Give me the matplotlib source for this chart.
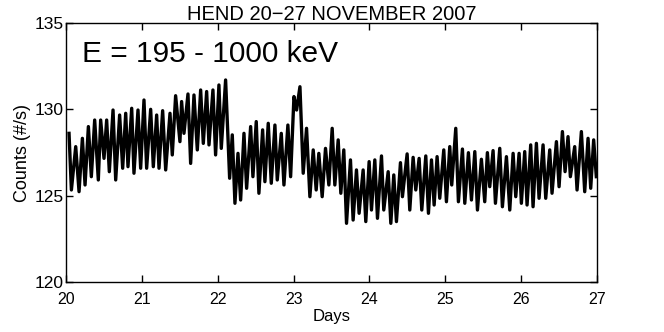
import matplotlib
matplotlib.use('Agg')
import matplotlib.pyplot as plt
import numpy as np

# peaks and troughs
days_a = [20.040, 20.071, 20.128, 20.172, 20.216, 20.251, 20.295, 20.334, 20.378, 20.426,
          20.457, 20.501, 20.536, 20.571, 20.620, 20.655, 20.707, 20.747, 20.787, 20.817,
          20.866, 20.896, 20.949, 20.984, 21.028, 21.063, 21.116, 21.151, 21.195, 21.226,
          21.274, 21.314, 21.371, 21.401, 21.445, 21.502, 21.524, 21.555, 21.608, 21.643,
          21.687, 21.731, 21.775, 21.810, 21.854, 21.885, 21.937, 21.972, 22.016, 22.047,
          22.104, 22.157, 22.192, 22.227, 22.267, 22.302, 22.346, 22.381, 22.434, 22.464,
          22.508, 22.543, 22.592, 22.622, 22.666, 22.706, 22.754, 22.785, 22.838, 22.873,
          22.925, 22.961, 23.005, 23.040, 23.084, 23.127, 23.171, 23.215, 23.259, 23.298,
          23.333, 23.377, 23.421, 23.465, 23.509]
counts_a = [128.61, 125.33, 127.84, 125.23, 128.32, 125.62, 129.00, 126.10, 129.38, 125.91,
            129.38, 127.16, 129.38, 126.39, 129.96, 125.91, 129.67, 126.59, 129.77, 126.68,
            130.06, 126.30, 129.96, 126.59, 130.54, 126.59, 130.00, 126.68, 129.67, 126.59,
            129.92, 126.49, 129.77, 127.36, 130.79, 128.13, 130.45, 128.61, 130.89, 126.87,
            130.83, 127.65, 131.12, 128.03, 131.03, 127.94, 131.12, 127.36, 131.41, 127.74,
            131.70, 126.01, 128.52, 124.56, 127.45, 124.75, 128.61, 125.43, 129.00, 126.10,
            129.29, 125.14, 128.81, 125.81, 129.19, 125.72, 129.09, 125.91, 128.61, 125.62,
            129.09, 126.10, 130.74, 129.96, 131.31, 126.30, 128.90, 124.94, 127.65, 125.33,
            127.45, 124.94, 127.74, 125.62, 128.90]

days_b = [23.544, 23.588, 23.623, 23.662, 23.698, 23.750, 23.785, 23.829, 23.864, 23.917,
          23.952, 23.996, 24.027, 24.071, 24.106, 24.159, 24.189, 24.247, 24.282, 24.321,
          24.356, 24.409, 24.435, 24.497, 24.532, 24.576, 24.611, 24.655, 24.690, 24.743,
          24.778, 24.818, 24.853, 24.892, 24.927, 24.980, 25.015, 25.059, 25.085, 25.138,
          25.173, 25.226, 25.257, 25.305, 25.345, 25.389, 25.424, 25.476, 25.520, 25.555,
          25.586, 25.630, 25.661, 25.718, 25.753, 25.806, 25.850, 25.894, 25.929, 25.973,
          26.003, 26.047, 26.078, 26.126, 26.157, 26.201, 26.236, 26.289, 26.324, 26.377,
          26.407, 26.465, 26.500, 26.544, 26.579, 26.618, 26.649, 26.706, 26.737, 26.794,
          26.838, 26.882, 26.917, 26.956, 26.991]
counts_b = [125.62, 128.23, 125.14, 127.65, 123.40, 127.07, 123.59, 126.49, 123.98, 126.49,
            123.50, 126.97, 124.17, 127.07, 123.69, 127.30, 124.17, 126.39, 123.40, 126.20,
            123.50, 126.91, 124.94, 127.42, 124.17, 127.22, 125.33, 127.16, 124.17, 127.30,
            123.98, 127.07, 124.46, 127.26, 124.85, 127.65, 124.65, 127.84, 125.62, 128.90,
            124.65, 127.70, 124.56, 127.49, 124.75, 127.55, 124.17, 127.11, 124.65, 127.49,
            125.52, 127.61, 124.56, 127.74, 124.36, 127.26, 124.17, 127.45, 124.94, 127.45,
            124.56, 127.55, 124.46, 127.94, 124.36, 128.03, 124.85, 127.94, 124.85, 127.65,
            125.14, 128.13, 125.52, 128.71, 126.39, 128.42, 126.10, 127.84, 125.33, 128.71,
            125.23, 128.32, 125.43, 128.23, 126.10]

day_ticks = [20, 21, 22, 23, 24, 25, 26, 27]
count_ticks = [120, 125, 130, 135]

plt.rcParams['font.family'] = ['Liberation Sans', 'DejaVu Sans']

days = np.array(days_a + days_b)
counts = np.array(counts_a + counts_b)

fig = plt.figure(figsize=(6.64, 3.32), dpi=100)
ax = fig.add_axes([0.0994, 0.1506, 0.7997, 0.7801])
ax.plot(days, counts, color='black', lw=2.4, solid_joinstyle='round')

ax.set_xlim(20, 27)
ax.set_ylim(120, 135)
ax.set_xticks(day_ticks)
ax.set_yticks(count_ticks)
ax.tick_params(direction='in', top=True, right=True, length=5, width=1)
ax.tick_params(axis='x', labelsize=11.5, pad=7.5)
ax.tick_params(axis='y', labelsize=12.5, pad=1.5)
for s in ax.spines.values():
    s.set_linewidth(1)

ax.set_title('HEND 20\u221227 NOVEMBER 2007', fontsize=14.5, pad=2)
ax.set_xlabel('Days', fontsize=12, labelpad=1)
ax.set_ylabel('Counts (#/s)', fontsize=13, labelpad=3)
ax.text(0.03, 0.935, 'E = 195 - 1000 keV', transform=ax.transAxes, fontsize=21.5,
        va='top', ha='left')

plt.savefig('out.png', dpi=100)
